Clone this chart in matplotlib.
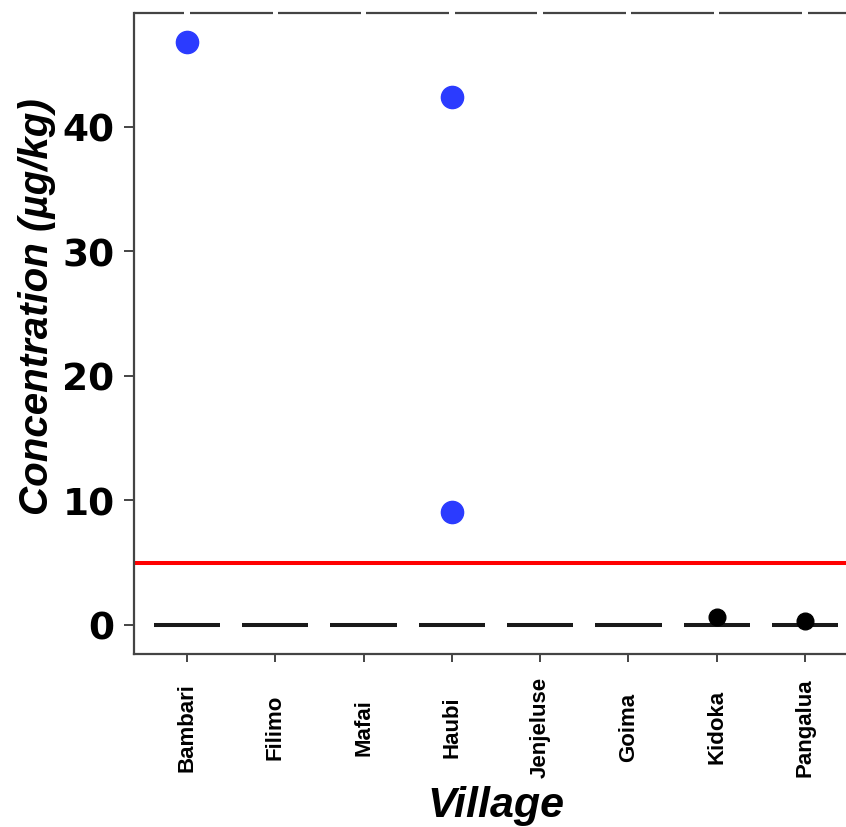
import matplotlib

matplotlib.use("Agg")

import matplotlib.pyplot as plt

plt.rcParams["font.family"] = ["Liberation Sans", "DejaVu Sans"]

villages = ["Bambari", "Filimo", "Mafai", "Haubi", "Jenjeluse", "Goima", "Kidoka", "Pangalua"]
medians = [0, 0, 0, 0, 0, 0, 0, 0]

# samples above the limit
high_village = ["Bambari", "Haubi", "Haubi"]
high_conc = [46.8, 42.4, 9.05]

# boxplot outliers below the limit
low_village = ["Kidoka", "Pangalua"]
low_conc = [0.64, 0.32]

limit = 5.0
y_ticks = [0, 10, 20, 30, 40]

W, H = 846, 828
fig = plt.figure(figsize=(W / 100, H / 100), dpi=100)
ax = fig.add_axes([134 / W, (H - 655) / H, 724 / W, 641 / H])

pos = {v: i + 1 for i, v in enumerate(villages)}
xs = [pos[v] for v in villages]

ax.hlines(medians, [x - 0.375 for x in xs], [x + 0.375 for x in xs], color="#1a1a1a", lw=2.9, zorder=2)
ax.axhline(limit, color="#ff0000", lw=2.9, zorder=1)

ax.plot([pos[v] for v in low_village], low_conc, "o", color="black", ms=12, zorder=3)
ax.plot([pos[v] for v in high_village], high_conc, "o", color="#2b3bff", ms=16, zorder=4)

ymax = max(high_conc)
ax.set_ylim(-0.05 * ymax, 1.05 * ymax)
ax.set_xlim(0.4, len(villages) + 0.6)

# top border broken at each village position
tops = [0.4] + [x + 0.03 for x in xs]
ends = [x - 0.03 for x in xs] + [len(villages) + 0.6]
ax.hlines([1.05 * ymax] * len(tops), tops, ends, color="#444444", lw=1.6, clip_on=False, zorder=5)

for side in ("top", "right"):
    ax.spines[side].set_visible(False)
for side in ("left", "bottom"):
    ax.spines[side].set_linewidth(1.6)
    ax.spines[side].set_color("#444444")

ax.set_xticks(xs)
ax.set_xticklabels(villages, rotation=90, va="center", ha="center", fontsize=16, fontweight="bold")
ax.set_yticks(y_ticks)
ax.set_yticklabels([str(t) for t in y_ticks], fontsize=27, fontweight="bold", family="DejaVu Sans")
ax.tick_params(axis="x", length=6, width=1.4, color="#444444", pad=46)
ax.tick_params(axis="y", length=7, width=1.4, color="#444444", pad=7)

ax.set_xlabel("Village", fontsize=31, fontweight="bold", style="italic")
ax.xaxis.set_label_coords((496 - 134) / 724, -(806 - 655) / 641)
ax.xaxis.label.set_va("center")
ax.set_ylabel("Concentration (µg/kg)", fontsize=29, fontweight="bold", style="italic")
ax.yaxis.set_label_coords(-(134 - 37) / 724, (655 - 307) / 641)
ax.yaxis.label.set_va("center")

fig.savefig("out.png", dpi=100)
